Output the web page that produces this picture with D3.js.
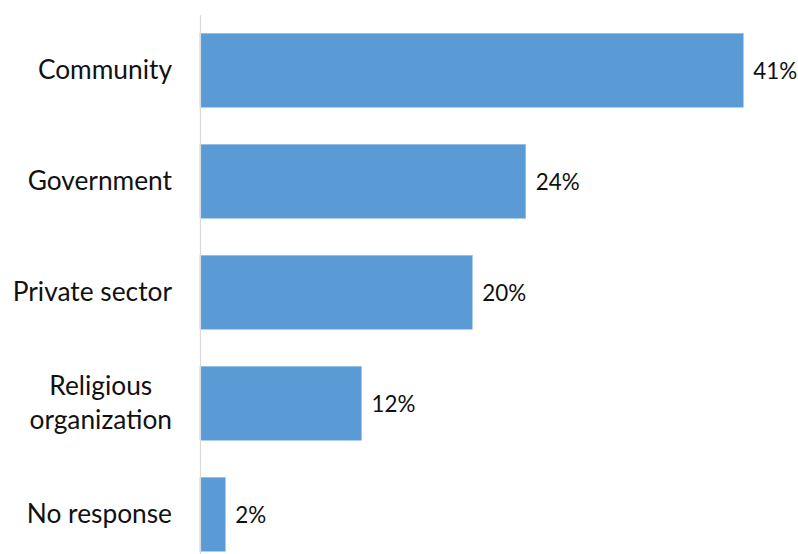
<!DOCTYPE html>
<html>
<head>
<meta charset="utf-8">
<script src="https://cdn.jsdelivr.net/npm/d3@7"></script>
<style>
  html, body { margin: 0; padding: 0; background: #fff; }
  svg { display: block; }
  text { font-family: Lato, "Open Sans", sans-serif; fill: #111; }
</style>
</head>
<body>
<svg id="chart" width="798" height="554"></svg>
<script>
// Data
const categories = ["Community", "Government", "Private sector", "Religious\norganization", "No response"];
const values = [40.7, 24.4, 20.4, 12.1, 1.9];
const valueLabels = ["41%", "24%", "20%", "12%", "2%"];

const W = 798, H = 554;
const svg = d3.select("#chart");
const catFontSize = 26.3;
const valFontSize = 22.4;

const x = d3.scaleLinear().domain([0, 45]).range([200, 200 + 45 * 13.35]);
const y = d3.scaleBand().domain(categories).range([14.8, 569.8])
  .paddingInner(1/3).paddingOuter(1/6);

// bars
svg.append("g").selectAll("rect")
  .data(categories)
  .join("rect")
  .attr("x", x(0))
  .attr("y", d => y(d))
  .attr("width", (d, i) => x(values[i]) - x(0))
  .attr("height", y.bandwidth())
  .attr("fill", "#5B9BD5")
  .attr("stroke", "#9DC3E6")
  .attr("stroke-width", 0.6);

// axis
const axis = svg.append("g")
  .attr("transform", `translate(${x(0)},0)`)
  .call(d3.axisLeft(y).tickSize(0).tickSizeOuter(0).tickPadding(28));
axis.select(".domain").attr("stroke", "#D9D9D9").attr("stroke-width", 1.2);
axis.selectAll(".tick text")
  .style("font-family", "Lato, 'Open Sans', sans-serif")
  .attr("font-size", catFontSize)
  .attr("fill", "#111")
  .each(function(d) {
    const lines = d.split("\n");
    if (lines.length > 1) {
      const t = d3.select(this);
      t.text(null).attr("dy", null);
      const spans = lines.map((l, i) => t.append("tspan").text(l));
      const widths = spans.map(s => s.node().getComputedTextLength());
      const maxW = d3.max(widths);
      const lh = 34;
      const x0 = -28 - maxW / 2;
      spans.forEach((s, i) => {
        s.attr("x", x0).attr("text-anchor", "middle")
         .attr("y", (i - (lines.length - 1) / 2) * lh)
         .attr("dy", "0.34em");
      });
    } else {
      d3.select(this).attr("dy", "0.34em");
    }
  });

// value labels
svg.append("g").selectAll("text")
  .data(categories)
  .join("text")
  .attr("x", (d, i) => x(values[i]) + 10)
  .attr("y", d => y(d) + y.bandwidth() / 2)
  .attr("dy", "0.38em")
  .attr("font-size", valFontSize)
  .text((d, i) => valueLabels[i]);
</script>
</body>
</html>
